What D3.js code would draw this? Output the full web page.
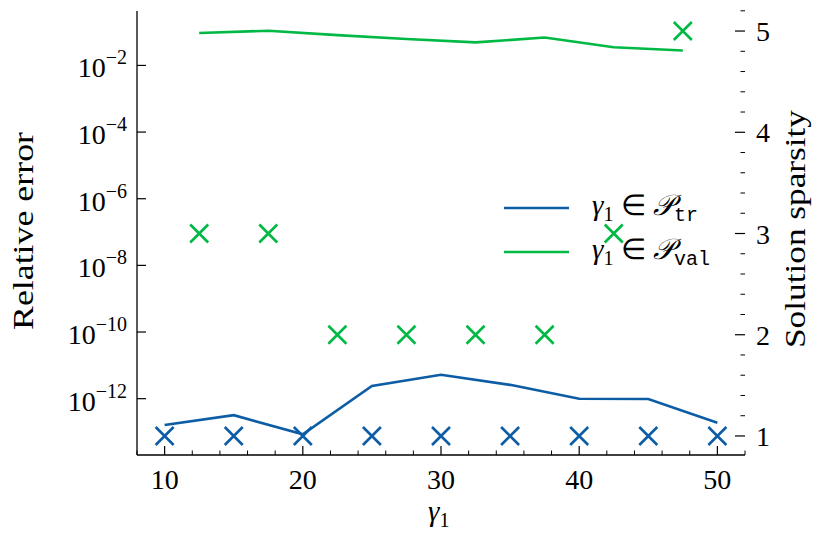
<!DOCTYPE html>
<html>
<head>
<meta charset="utf-8">
<script src="https://cdn.jsdelivr.net/npm/d3@7"></script>
<style>
body { margin: 0; background: #fff; }
</style>
</head>
<body>
<div id="container"></div>
<script>
// training points: gamma_1 values, relative error, sparsity
const gammaTr = [10, 15, 20, 25, 30, 35, 40, 45, 50];
const errTr = [1.62e-13, 3.2e-13, 8.5e-14, 2.4e-12, 5.2e-12, 2.6e-12, 1.0e-12, 9.8e-13, 1.9e-13];
const sparsTr = [1, 1, 1, 1, 1, 1, 1, 1, 1];

// validation points
const gammaVal = [12.5, 17.5, 22.5, 27.5, 32.5, 37.5, 42.5, 47.5];
const errVal = [0.094, 0.11, 0.081, 0.062, 0.049, 0.069, 0.035, 0.028];
const sparsVal = [3, 3, 2, 2, 2, 2, 3, 5];

const xTicks = [10, 20, 30, 40, 50];
const errTicks = [1e-2, 1e-4, 1e-6, 1e-8, 1e-10, 1e-12];
const sparsTicks = [1, 2, 3, 4, 5];

const w = 832, h = 545;
const margin = {top: 11, right: 87, bottom: 90, left: 137};
const blue = "#0C5DA5", green = "#00B945";
const fs = 28;

const x = d3.scaleLinear().domain([8, 52]).range([margin.left, w - margin.right]);
const yErr = d3.scaleLog().domain([Math.pow(10, -13.69), Math.pow(10, -0.367)]).range([h - margin.bottom, margin.top]);
const ySp = d3.scaleLinear().domain([0.812, 5.198]).range([h - margin.bottom, margin.top]);

const svg = d3.select("#container").append("svg")
    .attr("width", w)
    .attr("height", h);

const x0 = margin.left, x1 = w - margin.right, y0 = h - margin.bottom, y1 = margin.top;

// every text goes through here so the serif face is set on the element itself
function label(sel) {
    return sel.append("text").attr("font-family", "Liberation Serif").attr("fill", "#000");
}

// spines (left + bottom only)
svg.append("line").attr("x1", x0).attr("x2", x0).attr("y1", y1).attr("y2", y0)
    .attr("stroke", "#000").attr("stroke-width", 1.3);
svg.append("line").attr("x1", x0).attr("x2", x1).attr("y1", y0).attr("y2", y0)
    .attr("stroke", "#000").attr("stroke-width", 1.3);

// x ticks, pointing inward
const xMinor = d3.range(8, 52.01, 2).filter(d => d % 10 !== 0);
svg.append("g").selectAll("line").data(xMinor).enter().append("line")
    .attr("x1", d => x(d)).attr("x2", d => x(d))
    .attr("y1", y0).attr("y2", y0 - 4.5)
    .attr("stroke", "#000").attr("stroke-width", 1);
svg.append("g").selectAll("line").data(xTicks).enter().append("line")
    .attr("x1", d => x(d)).attr("x2", d => x(d))
    .attr("y1", y0).attr("y2", y0 - 9)
    .attr("stroke", "#000").attr("stroke-width", 1.2);
svg.append("g").selectAll("text").data(xTicks).enter().append("text")
    .attr("font-family", "Liberation Serif")
    .attr("x", d => x(d)).attr("y", y0 + 34)
    .attr("text-anchor", "middle")
    .attr("font-size", fs)
    .text(d => d);

// left log ticks
svg.append("g").selectAll("line").data(errTicks).enter().append("line")
    .attr("x1", x0).attr("x2", x0 + 9)
    .attr("y1", d => yErr(d)).attr("y2", d => yErr(d))
    .attr("stroke", "#000").attr("stroke-width", 1.2);
const errLab = svg.append("g").selectAll("text").data(errTicks).enter().append("text")
    .attr("font-family", "Liberation Serif")
    .attr("x", x0 - 10).attr("y", d => yErr(d) + 12)
    .attr("text-anchor", "end")
    .attr("font-size", fs);
errLab.append("tspan").text("10");
errLab.append("tspan")
    .attr("dy", -13)
    .attr("font-size", 20)
    .text(d => "\u2212" + Math.round(-Math.log10(d)));

// right sparsity ticks (no spine drawn)
const spMinor = d3.range(0.8, 5.21, 0.2).filter(d => Math.abs(d - Math.round(d)) > 0.01 && d > 0.812);
svg.append("g").selectAll("line").data(spMinor).enter().append("line")
    .attr("x1", x1 - 4.5).attr("x2", x1)
    .attr("y1", d => ySp(d)).attr("y2", d => ySp(d))
    .attr("stroke", "#000").attr("stroke-width", 1);
svg.append("g").selectAll("line").data(sparsTicks).enter().append("line")
    .attr("x1", x1 - 10).attr("x2", x1)
    .attr("y1", d => ySp(d)).attr("y2", d => ySp(d))
    .attr("stroke", "#000").attr("stroke-width", 1.2);
svg.append("g").selectAll("text").data(sparsTicks).enter().append("text")
    .attr("font-family", "Liberation Serif")
    .attr("x", x1 + 11).attr("y", d => ySp(d) + 10)
    .attr("font-size", fs)
    .text(d => d);

// axis labels
label(svg)
    .attr("transform", "translate(33,231) rotate(-90)")
    .attr("text-anchor", "middle")
    .attr("textLength", 198)
    .attr("lengthAdjust", "spacingAndGlyphs")
    .attr("font-size", 29)
    .text("Relative error");
label(svg)
    .attr("transform", "translate(805,229) rotate(-90)")
    .attr("text-anchor", "middle")
    .attr("textLength", 238)
    .attr("lengthAdjust", "spacingAndGlyphs")
    .attr("font-size", 29)
    .text("Solution sparsity");
const xl = label(svg)
    .attr("x", x(30) - 13).attr("y", 521)
    .attr("font-size", 29);
xl.append("tspan").attr("font-style", "italic").text("\u03B3");
xl.append("tspan").attr("dy", 6).attr("font-size", 20).text("1");

// lines: relative error on the log axis
const lineErr = (xs) => d3.line().x((d, i) => x(xs[i])).y(d => yErr(d));
svg.append("path").datum(errTr)
    .attr("d", lineErr(gammaTr))
    .attr("fill", "none").attr("stroke", blue).attr("stroke-width", 2.6);
svg.append("path").datum(errVal)
    .attr("d", lineErr(gammaVal))
    .attr("fill", "none").attr("stroke", green).attr("stroke-width", 2.6);

// crosses: sparsity on the right axis
function crosses(xs, ys, col) {
    const s = 9;
    svg.append("g").selectAll("path").data(ys).enter().append("path")
        .attr("d", (d, i) => {
            const cx = x(xs[i]), cy = ySp(d);
            return "M" + (cx - s) + "," + (cy - s) + "L" + (cx + s) + "," + (cy + s) +
                   "M" + (cx - s) + "," + (cy + s) + "L" + (cx + s) + "," + (cy - s);
        })
        .attr("stroke", col).attr("stroke-width", 2.6).attr("fill", "none");
}
crosses(gammaTr, sparsTr, blue);
crosses(gammaVal, sparsVal, green);

// legend
const legend = svg.append("g").attr("transform", "translate(504,0)");
[["tr", blue, 208], ["val", green, 252]].forEach(([sub, col, ly]) => {
    legend.append("line").attr("x1", 0).attr("x2", 65).attr("y1", ly).attr("y2", ly)
        .attr("stroke", col).attr("stroke-width", 2.6);
    const t = label(legend).attr("x", 88).attr("y", ly + 7)
        .attr("font-size", 29);
    t.append("tspan").attr("font-style", "italic").text("\u03B3");
    t.append("tspan").attr("dy", 6).attr("font-size", 20).text("1");
    t.append("tspan").attr("dy", -6).text(" \u2208 ");
    t.append("tspan").attr("font-family", "DejaVu Serif").attr("font-style", "italic").text("\uD835\uDCAB");
    t.append("tspan").attr("dy", 6).attr("font-family", "Liberation Mono").attr("font-size", 20).text(sub);
});
</script>
</body>
</html>
